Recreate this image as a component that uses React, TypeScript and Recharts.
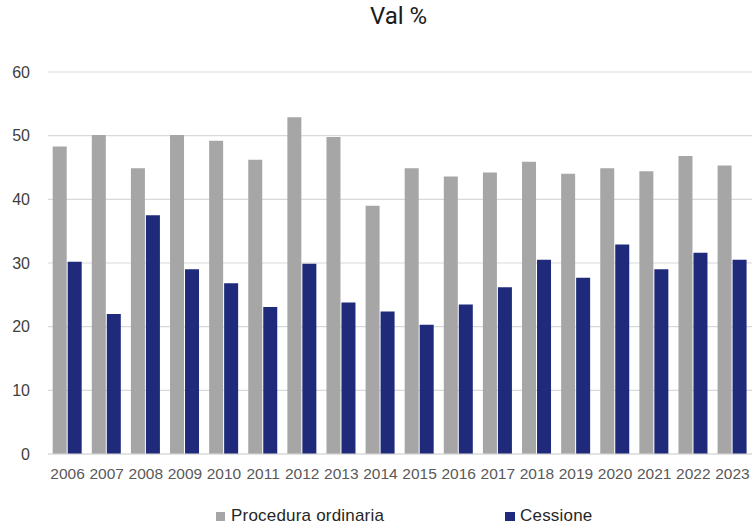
import React from 'react';
import { BarChart, Bar, XAxis, YAxis, CartesianGrid } from 'recharts';

const years = ['2006', '2007', '2008', '2009', '2010', '2011', '2012', '2013', '2014', '2015', '2016', '2017', '2018', '2019', '2020', '2021', '2022', '2023'];
const proceduraOrdinaria = [48.3, 50.1, 44.9, 50.1, 49.2, 46.2, 52.9, 49.8, 39.0, 44.9, 43.6, 44.2, 45.9, 44.0, 44.9, 44.4, 46.8, 45.3];
const cessione = [30.2, 22.0, 37.5, 29.0, 26.8, 23.1, 29.9, 23.8, 22.4, 20.3, 23.5, 26.2, 30.5, 27.7, 32.9, 29.0, 31.6, 30.5];
const yTicks = [0, 10, 20, 30, 40, 50, 60];

const data = years.map((y, i) => ({ year: y, proc: proceduraOrdinaria[i], cess: cessione[i] }));

const GRAY = '#A6A6A6';
const BLUE = '#1F2A7A';
const FONT = '"Liberation Sans", Arial, sans-serif';

export default function App() {
  return (
    <div style={{ position: 'absolute', left: 0, top: 0, width: 752, height: 527, background: '#fff', fontFamily: FONT }}>
      <div style={{ position: 'absolute', left: 370, top: 2, fontSize: 24, color: '#1a1a1a', fontFamily: 'Roboto, sans-serif' }}>
        Val %
      </div>
      <BarChart
        width={752}
        height={527}
        data={data}
        margin={{ top: 72, right: 0, left: 0, bottom: 0 }}
        barCategoryGap="12%"
        barGap={1}
      >
        <CartesianGrid vertical={false} stroke="#D9D9D9" strokeWidth={1.2} />
        <XAxis
          dataKey="year"
          height={73}
          tickLine={false}
          tickSize={0}
          tickMargin={14}
          axisLine={{ stroke: '#D9D9D9', strokeWidth: 1.2 }}
          interval={0}
          tick={{ fontSize: 15.5, fill: '#595959', fontFamily: FONT }}
        />
        <YAxis
          width={48}
          domain={[0, 60]}
          ticks={yTicks}
          axisLine={false}
          tickLine={false}
          tickSize={0}
          tickMargin={18}
          tick={{ fontSize: 16, fill: '#404040', fontFamily: FONT }}
        />
        <Bar dataKey="proc" name="Procedura ordinaria" fill={GRAY} isAnimationActive={false} />
        <Bar dataKey="cess" name="Cessione" fill={BLUE} isAnimationActive={false} />
      </BarChart>
      <div style={{ position: 'absolute', top: 506, left: 0, width: 752, height: 20, fontSize: 17, letterSpacing: 0.2, color: '#262626' }}>
        <div style={{ position: 'absolute', left: 216, top: 6, width: 9, height: 9, background: GRAY }} />
        <div style={{ position: 'absolute', left: 231, top: 0 }}>Procedura ordinaria</div>
        <div style={{ position: 'absolute', left: 505, top: 6, width: 10, height: 9, background: BLUE }} />
        <div style={{ position: 'absolute', left: 520, top: 0 }}>Cessione</div>
      </div>
    </div>
  );
}
